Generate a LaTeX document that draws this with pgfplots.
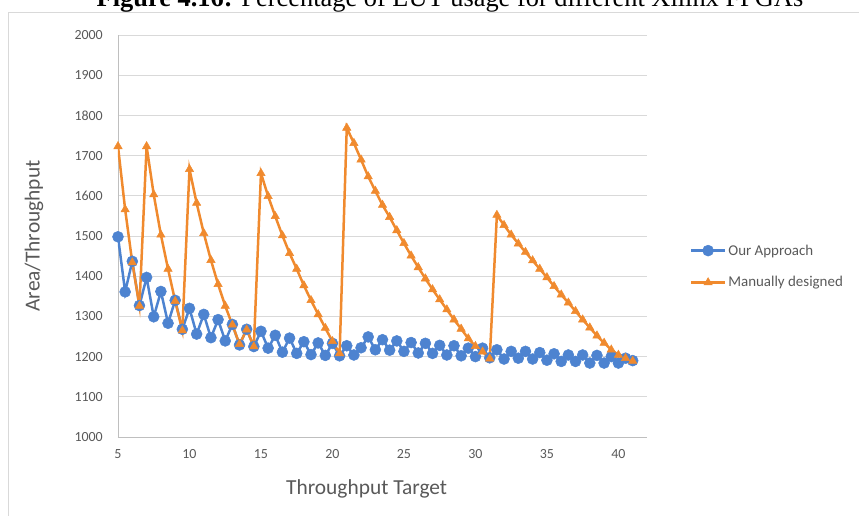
\documentclass[border=0pt]{standalone}
\usepackage{fontspec}
\setmainfont{Carlito}
\newfontfamily\titlefont{Liberation Serif}
\usepackage{pgfplots}
\usepackage{pgfplotstable}
\pgfplotsset{compat=1.18}
\definecolor{blueS}{HTML}{4D83D0}
\definecolor{orangeS}{HTML}{F08A2E}
\definecolor{gridc}{HTML}{D9D9D9}
\definecolor{axisc}{HTML}{BFBFBF}
\definecolor{textc}{HTML}{595959}
\pgfplotstableread{
x y
5 1498
5.5 1361
6 1437
6.5 1327
7 1397
7.5 1299
8 1362
8.5 1283
9 1340
9.5 1268
10 1320
10.5 1256
11 1305
11.5 1247
12 1292
12.5 1239
13 1280
13.5 1229
14 1268
14.5 1225
15 1263
15.5 1221
16 1253
16.5 1211
17 1246
17.5 1208
18 1237
18.5 1205
19 1234
19.5 1203
20 1233
20.5 1202
21 1227
21.5 1204
22 1222
22.5 1249
23 1217
23.5 1242
24 1216
24.5 1239
25 1213
25.5 1235
26 1209
26.5 1233
27 1208
27.5 1228
28 1204
28.5 1227
29 1202
29.5 1221
30 1200
30.5 1221
31 1197
31.5 1217
32 1194
32.5 1213
33 1196
33.5 1213
34 1194
34.5 1210
35 1191
35.5 1207
36 1188
36.5 1204
37 1188
37.5 1204
38 1184
38.5 1203
39 1184
39.5 1200
40 1184
40.5 1196
41 1190
}\ours
\pgfplotstableread{
x y
5 1723
5.5 1566
6 1434
6.5 1326
7 1723
7.5 1603
8 1503
8.5 1418
9 1338
9.5 1265
10 1666
10.5 1582
11 1507
11.5 1440
12 1380
12.5 1326
13 1279
13.5 1231
14 1267
14.5 1225
15 1656
15.5 1599
16 1549
16.5 1501
17 1457
17.5 1418
18 1377
18.5 1340
19 1305
19.5 1271
20 1238
20.5 1208
21 1769
21.5 1731
22 1690
22.5 1648
23 1612
23.5 1577
24 1547
24.5 1514
25 1482
25.5 1451
26 1422
26.5 1394
27 1367
27.5 1342
28 1317
28.5 1292
29 1269
29.5 1245
30 1226
30.5 1212
31 1195
31.5 1552
32 1527
32.5 1503
33 1481
33.5 1460
34 1439
34.5 1418
35 1397
35.5 1375
36 1354
36.5 1334
37 1313
37.5 1292
38 1272
38.5 1252
39 1234
39.5 1217
40 1204
40.5 1196
41 1189
}\manual
\begin{document}
\begin{tikzpicture}
\useasboundingbox (-118bp,-79bp) rectangle (741bp,437bp);
\draw[gridc, line width=0.8bp] (-110bp,-200bp) rectangle (900bp,425bp);
\node[font=\titlefont\fontsize{26.5}{30}\selectfont, anchor=base] at (332bp,430bp) {\textbf{Figure 4.16:} Percentage of LUT usage for different Xilinx FPGAs};
\begin{axis}[
  at={(0,0)}, anchor=south west,
  scale only axis, width=529bp, height=402bp,
  xmin=5, xmax=42, ymin=1000, ymax=2000,
  xtick={5,10,...,40}, ytick={1000,1100,...,2000},
  ymajorgrids, grid style={gridc, line width=0.8bp},
  axis lines*=left,
  axis line style={-, axisc, line width=0.8bp},
  major tick length=0pt, tick style={draw=none},
  ticklabel style={font=\fontsize{14}{17}\selectfont, text=textc},
  /pgf/number format/assume math mode=true,
  /pgf/number format/1000 sep={},
  yticklabel style={anchor=east, inner sep=0pt, xshift=-15bp},
  xticklabel style={anchor=north, inner sep=0pt, yshift=-12bp},
  xlabel={Throughput Target}, ylabel={Area/Throughput},
  label style={font=\fontsize{21.5}{26}\selectfont, text=textc},
  xlabel style={at={(axis description cs:0.47,-0.142)}, anchor=base},
  ylabel style={at={(axis description cs:-0.148,0.5)}, anchor=base},
  legend style={at={(1.075,0.424)}, anchor=west, draw=none, fill=none,
    font=\fontsize{15}{18}\selectfont, text=textc, row sep=16bp},
  legend cell align=left,
  legend image code/.code={\draw[mark repeat=2,mark phase=2,#1] plot coordinates {(0bp,0bp) (17bp,0bp) (34bp,0bp)};},
]
\addplot[blueS, line width=2.5bp, mark=*, mark size=5.5bp, mark options={fill=blueS, draw=blueS, line width=0.5bp}] table[x=x,y=y] {\ours};
\addlegendentry{Our Approach}
\addplot[orangeS, line width=2.5bp, mark=triangle*, mark size=4.8bp, mark options={fill=orangeS, draw=orangeS, line width=0.5bp}] table[x=x,y=y] {\manual};
\addlegendentry{Manually designed}
\end{axis}
\end{tikzpicture}
\end{document}
